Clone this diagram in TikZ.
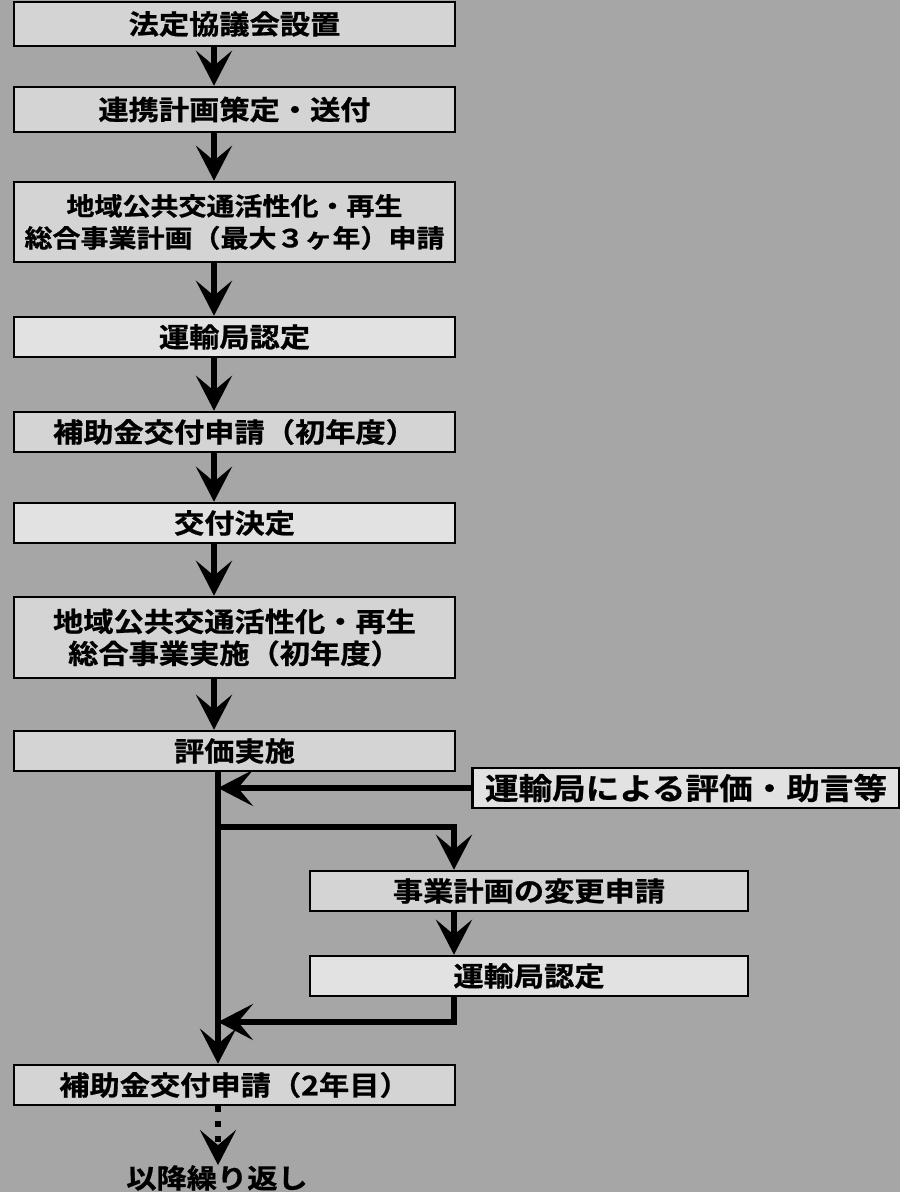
\documentclass[tikz,border=0pt]{standalone}
\usepackage{fontspec}
\usetikzlibrary{arrows.meta,calc}
\newfontfamily\jp{Noto Sans CJK JP}[UprightFont={* Bold},FakeStretch=1.12,FakeBold=0.8]
\definecolor{bg}{RGB}{166,166,166}
\definecolor{boxa}{RGB}{212,212,212}
\definecolor{boxb}{RGB}{226,226,226}
\tikzset{
  flowbox/.style={draw=black,line width=2.5pt,fill=boxa,inner sep=0pt,align=center,
    font=\jp\fontsize{27}{32}\selectfont,minimum width=441pt,minimum height=40pt},
  lightbox/.style={flowbox,fill=boxb},
  arr/.style={line width=6pt,-{Stealth[length=35pt,width=36pt,inset=15pt]}},
  plainline/.style={line width=6pt}
}
\begin{document}
\begin{tikzpicture}[x=1pt,y=-1pt]
\fill[bg] (0,0) rectangle (900,1192);
\useasboundingbox (0,0) rectangle (900,1192);
\clip (0,0) rectangle (900,1192);
\coordinate (ax) at (214,0);
\coordinate (mx) at (218,0);
\coordinate (bx) at (454,0);
\node[flowbox,minimum height=44pt] (b1) at (234.5,24) {法定協議会設置};
\node[flowbox,minimum height=45pt] (b2) at (234.5,109.5) {連携計画策定・送付};
\node[flowbox,minimum height=80pt,font=\jp\fontsize{25}{32}\selectfont] (b3) at (234.5,222) {地域公共交通活性化・再生\\総合事業計画（最大３ヶ年）申請};
\node[lightbox] (b4) at (234.5,337) {運輸局認定};
\node[flowbox] (b5) at (234.5,432) {補助金交付申請（初年度）};
\node[lightbox] (b6) at (234.5,523) {交付決定};
\node[flowbox,minimum height=81pt] (b7) at (234.5,637.5) {地域公共交通活性化・再生\\総合事業実施（初年度）};
\node[flowbox] (b8) at (234.5,751) {評価実施};
\node[lightbox,minimum width=427pt,font=\jp\fontsize{30}{32}\selectfont] (b9) at (686,788) {運輸局による評価・助言等};
\node[flowbox,minimum width=438pt] (b10) at (529,891) {事業計画の変更申請};
\node[lightbox,minimum width=438pt] (b11) at (529,976) {運輸局認定};
\node[flowbox] (b12) at (234.5,1085) {補助金交付申請（2年目）};
\node[font=\jp\fontsize{27}{32}\selectfont,inner sep=0pt] (rep) at (217,1178) {以降繰り返し};
\coordinate (branch) at (218,827);
\coordinate (join) at (218,1022);
\draw[arr] (b1.south -| ax) -- (b2.north -| ax);
\draw[arr] (b2.south -| ax) -- (b3.north -| ax);
\draw[arr] (b3.south -| ax) -- (b4.north -| ax);
\draw[arr] (b4.south -| ax) -- (b5.north -| ax);
\draw[arr] (b5.south -| ax) -- (b6.north -| ax);
\draw[arr] (b6.south -| ax) -- (b7.north -| ax);
\draw[arr] (b7.south -| ax) -- (b8.north -| ax);
\draw[arr] (b8.south -| mx) -- (b12.north -| mx);
\draw[arr] (b9.west) -- (b9.west -| mx);
\draw[arr] (branch) -| (b10.north -| bx);
\draw[arr] (b10.south -| bx) -- (b11.north -| bx);
\draw[arr] (b11.south -| bx) |- (join);
\draw[line width=6pt,dash pattern=on 6pt off 9pt,-{Stealth[length=35pt,width=36pt,inset=15pt]}] (b12.south -| mx) -- (rep.north -| mx);
\end{tikzpicture}
\end{document}
